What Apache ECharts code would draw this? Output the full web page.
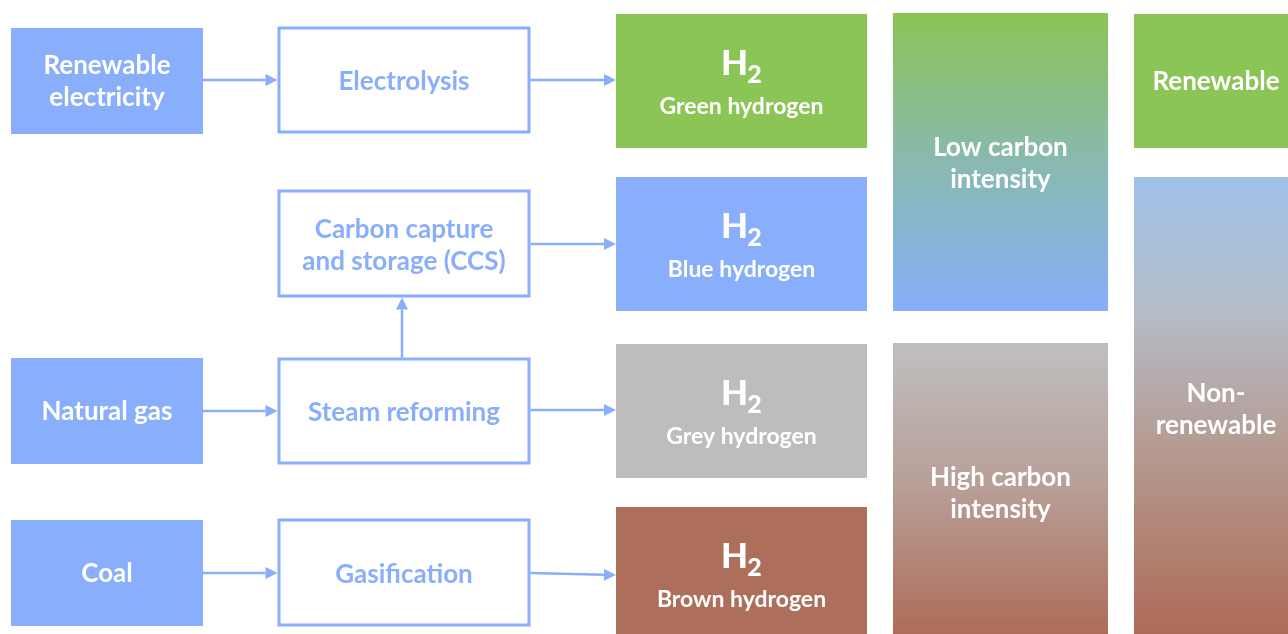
<!DOCTYPE html>
<html>
<head>
<meta charset="utf-8">
<script src="https://cdn.jsdelivr.net/npm/echarts@6/dist/echarts.min.js"></script>
<style>
html,body{margin:0;padding:0;background:#fff;}
#main{width:1288px;height:634px;}
</style>
</head>
<body>
<div id="main"></div>
<script>
// ---- content ----
const sources = ['Renewable\nelectricity', 'Natural gas', 'Coal'];
const processes = ['Electrolysis', 'Carbon capture\nand storage (CCS)', 'Steam reforming', 'Gasification'];
const hydrogenTypes = ['Green hydrogen', 'Blue hydrogen', 'Grey hydrogen', 'Brown hydrogen'];
const intensityLabels = ['Low carbon\nintensity', 'High carbon\nintensity'];
const originLabels = ['Renewable', 'Non-\nrenewable'];
// links: [fromKind, fromIndex, toKind, toIndex]
const links = [
  ['src', 0, 'proc', 0],
  ['proc', 0, 'h2', 0],
  ['proc', 1, 'h2', 1],
  ['src', 1, 'proc', 2],
  ['proc', 2, 'h2', 2],
  ['proc', 2, 'proc', 1],
  ['src', 2, 'proc', 3],
  ['proc', 3, 'h2', 3]
];

// ---- layout & style ----
const FONT = 'Lato';
const BLUE = '#89aefc';
const GREEN = '#8bc556';
const GREY = '#bdbdbd';
const BROWN = '#ad6f5b';
const h2Colors = [GREEN, BLUE, GREY, BROWN];
const srcBoxes = [[11, 28, 192, 106], [11, 358, 192, 106], [11, 520, 192, 106]];
const procBoxes = [[279, 28, 250, 104], [279, 191, 250, 105], [279, 359, 250, 104], [279, 520, 250, 105]];
const h2Boxes = [[616, 14, 251, 134], [616, 177, 251, 134], [616, 344, 251, 134], [616, 507, 251, 127]];
const intensityBoxes = [[893, 13, 215, 298], [893, 343, 215, 291]];
const originBoxes = [[1134, 14, 165, 134], [1134, 177, 165, 457]];
const arrowY = [80, 80, 244, 411, 410, null, 573, [573, 575]];
const intensityGradients = [
  [[0, '#8bc556'], [0.5, '#89b9b0'], [1, '#88aefb']],
  [[0, '#bfbfbf'], [0.5, '#b89e96'], [1, '#ad6c58']]
];
const originGradients = [
  null,
  [[0, '#9fc2e8'], [0.3, '#b4bcc7'], [0.6, '#b59a90'], [1, '#ad6b57']]
];

function grad(stops) {
  return new echarts.graphic.LinearGradient(0, 0, 0, 1, stops.map(s => ({offset: s[0], color: s[1]})));
}

const elements = [];

function label(x, y, text, color, size) {
  elements.push({
    type: 'text', x: x, y: y, z: 5,
    style: {text: text, fill: color, font: 'bold ' + size + 'px ' + FONT,
      align: 'center', verticalAlign: 'middle', lineHeight: 32}
  });
}

sources.forEach((s, i) => {
  const b = srcBoxes[i];
  elements.push({type: 'rect', shape: {x: b[0], y: b[1], width: b[2], height: b[3]}, style: {fill: BLUE}, z: 1});
  label(b[0] + b[2] / 2, b[1] + b[3] / 2 + 1, s, '#fff', 26);
});

processes.forEach((p, i) => {
  const b = procBoxes[i];
  elements.push({
    type: 'rect', shape: {x: b[0], y: b[1], width: b[2], height: b[3]},
    style: {fill: '#fff', stroke: BLUE, lineWidth: 3}, z: 2
  });
  label(b[0] + b[2] / 2, b[1] + b[3] / 2 + 2, p, BLUE, 26);
});

hydrogenTypes.forEach((h, i) => {
  const b = h2Boxes[i];
  const cx = b[0] + b[2] / 2;
  const top = b[1];
  elements.push({type: 'rect', shape: {x: b[0], y: b[1], width: b[2], height: b[3]}, style: {fill: h2Colors[i]}, z: 1});
  elements.push({
    type: 'text', x: cx - 7, y: top + 50, z: 5,
    style: {text: 'H', fill: '#fff', font: '900 35px ' + FONT, align: 'center', verticalAlign: 'middle'}
  });
  elements.push({
    type: 'text', x: cx + 13, y: top + 61, z: 5,
    style: {text: '2', fill: '#fff', font: '900 25px ' + FONT, align: 'center', verticalAlign: 'middle'}
  });
  label(cx, top + 93, h, '#fff', 23);
});

intensityLabels.forEach((t, i) => {
  const b = intensityBoxes[i];
  elements.push({type: 'rect', shape: {x: b[0], y: b[1], width: b[2], height: b[3]}, style: {fill: grad(intensityGradients[i])}, z: 1});
  label(b[0] + b[2] / 2, i === 0 ? 164 : 494, t, '#fff', 26);
});

originLabels.forEach((t, i) => {
  const b = originBoxes[i];
  elements.push({type: 'rect', shape: {x: b[0], y: b[1], width: b[2], height: b[3]},
    style: {fill: originGradients[i] ? grad(originGradients[i]) : GREEN}, z: 1});
  label(1216, i === 0 ? 82 : 410, t, '#fff', 26);
});

function box(kind, idx) {
  return kind === 'src' ? srcBoxes[idx] : kind === 'proc' ? procBoxes[idx] : h2Boxes[idx];
}

links.forEach((l, k) => {
  let p1, p2;
  const a = box(l[0], l[1]), c = box(l[2], l[3]);
  if (l[0] === 'proc' && l[2] === 'proc') {
    const x = a[0] + a[2] / 2 - 2;
    p1 = [x, a[1] - 1.5];
    p2 = [x, c[1] + c[3] + 1.5];
  } else {
    const ys = arrowY[k];
    const y1 = Array.isArray(ys) ? ys[0] : ys;
    const y2 = Array.isArray(ys) ? ys[1] : ys;
    p1 = [a[0] + a[2] + (l[0] === 'proc' ? 1.5 : 0), y1];
    p2 = [c[0] - (l[2] === 'proc' ? 1.5 : 0), y2];
  }
  const dx = p2[0] - p1[0], dy = p2[1] - p1[1];
  const len = Math.sqrt(dx * dx + dy * dy);
  const ux = dx / len, uy = dy / len;
  const headL = 12, headW = 6;
  const bx = p2[0] - ux * headL, by = p2[1] - uy * headL;
  elements.push({
    type: 'line', shape: {x1: p1[0], y1: p1[1], x2: bx, y2: by},
    style: {stroke: BLUE, lineWidth: 2.5}, z: 3
  });
  elements.push({
    type: 'polygon',
    shape: {points: [[p2[0], p2[1]], [bx - uy * headW, by + ux * headW], [bx + uy * headW, by - ux * headW]]},
    style: {fill: BLUE}, z: 3
  });
});

const chart = echarts.init(document.getElementById('main'), null, {renderer: 'canvas'});
chart.setOption({
  backgroundColor: '#ffffff',
  animation: false,
  graphic: {elements: elements}
});
</script>
</body>
</html>
